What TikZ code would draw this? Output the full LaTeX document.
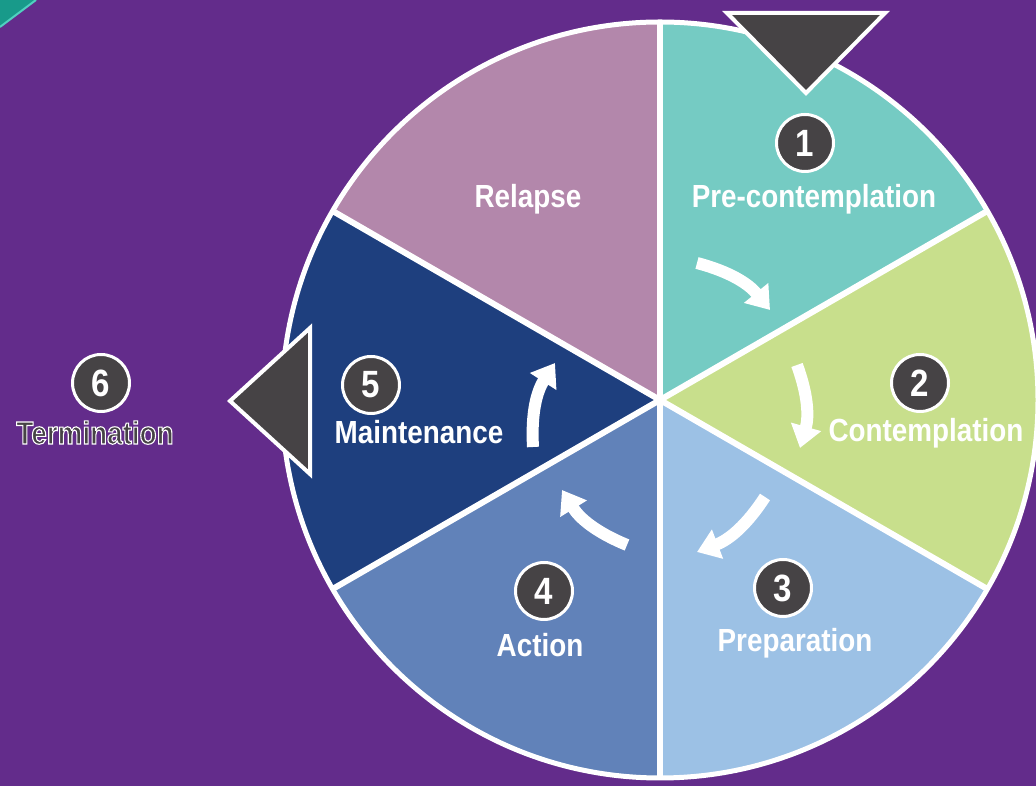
\documentclass[tikz,border=0pt]{standalone}
\usepackage{fontspec}
\usetikzlibrary{arrows.meta}
\newfontfamily\stagefont[FakeStretch=0.87]{Liberation Sans}
\definecolor{bgpurple}{RGB}{99,44,139}
\definecolor{cornerteal}{RGB}{24,154,138}
\definecolor{corneredge}{RGB}{80,208,192}
\definecolor{sTeal}{RGB}{117,203,195}
\definecolor{sGreen}{RGB}{200,223,140}
\definecolor{sLight}{RGB}{156,193,229}
\definecolor{sMid}{RGB}{97,130,185}
\definecolor{sDark}{RGB}{30,63,126}
\definecolor{sMauve}{RGB}{179,135,171}
\definecolor{badge}{RGB}{70,67,69}
% text drawn with a white stroke round a dark fill
\newcommand{\outlinedtext}[1]{\special{pdf:literal q 2 Tr 1.1 w 1 1 1 RG}#1\special{pdf:literal Q}}
\begin{document}
\begin{tikzpicture}[x=1pt,y=1pt,
  stagelabel/.style={text=white,font=\stagefont\bfseries\fontsize{32}{34}\selectfont,anchor=base,inner sep=0pt},
  numbadge/.style={circle,fill=badge,draw=white,line width=3pt,minimum size=57pt,inner sep=0pt,
    text=white,font=\stagefont\bfseries\fontsize{38}{40}\selectfont},
  cyclearrow/.style={draw=white,line width=12pt,-{Triangle[width=30pt,length=22pt]},bend left=18},
  marker/.style={fill=badge,draw=white,line width=4pt,line join=miter}]
% background
\fill[bgpurple] (0,0) rectangle (1036,786);
\useasboundingbox (0,0) rectangle (1036,786);
\fill[cornerteal] (0,786) -- (36,786) -- (0,759) -- cycle;
\draw[corneredge,line width=2pt] (36,786) -- (0,759);
% wheel of stages
\coordinate (c) at (660,386);
\def\R{378}
\fill[sTeal]  (c) -- ++(30:\R)  arc (30:90:\R)   -- cycle;
\fill[sGreen] (c) -- ++(-30:\R) arc (-30:30:\R)  -- cycle;
\fill[sLight] (c) -- ++(-90:\R) arc (-90:-30:\R) -- cycle;
\fill[sMid]   (c) -- ++(-150:\R) arc (-150:-90:\R) -- cycle;
\fill[sDark]  (c) -- ++(150:\R) arc (150:210:\R) -- cycle;
\fill[sMauve] (c) -- ++(90:\R)  arc (90:150:\R)  -- cycle;
\foreach \a in {90,30,-30,-90,-150,150}
  \draw[white,line width=6pt] (c) -- ++(\a:\R);
\draw[white,line width=5pt] (c) circle (\R);
% pointers
\draw[marker] (727,773) -- (885,773) -- (806,693) -- cycle;
\draw[marker] (230,385) -- (310,458) -- (310,312) -- cycle;
% arrows between stages
\coordinate (a1s) at (697,523); \coordinate (a1e) at (770,476);
\coordinate (a2s) at (797,421); \coordinate (a2e) at (800,338);
\coordinate (a3s) at (765,289); \coordinate (a3e) at (697,234);
\coordinate (a4s) at (627,241); \coordinate (a4e) at (562,296);
\coordinate (a5s) at (533,339); \coordinate (a5e) at (555,423);
\draw[cyclearrow] (a1s) to (a1e);
\draw[cyclearrow] (a2s) to (a2e);
\draw[cyclearrow] (a3s) to (a3e);
\draw[cyclearrow] (a4s) to (a4e);
\draw[cyclearrow] (a5s) to (a5e);
% numbers
\node[numbadge] (n1) at (805,643) {1};
\node[numbadge] (n2) at (920,403) {2};
\node[numbadge] (n3) at (783,198) {3};
\node[numbadge] (n4) at (544,195) {4};
\node[numbadge] (n5) at (371,401) {5};
\node[numbadge] (n6) at (101,403) {6};
% stage names
\node[stagelabel] (l1) at (814,578) {Pre-contemplation};
\node[stagelabel] (l2) at (926,344) {Contemplation};
\node[stagelabel] (l3) at (795,134) {Preparation};
\node[stagelabel] (l4) at (540,129) {Action};
\node[stagelabel] (l5) at (419,342) {Maintenance};
\node[stagelabel] (l0) at (528,578) {Relapse};
\node[stagelabel,text=badge] (l6) at (95,342) {\outlinedtext{Termination}};
\end{tikzpicture}
\end{document}
